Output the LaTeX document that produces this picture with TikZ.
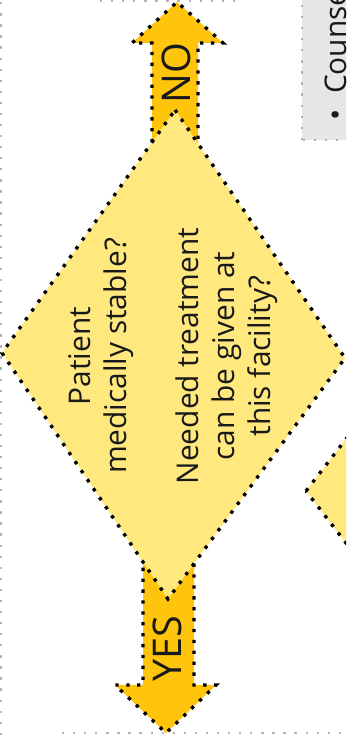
\documentclass[tikz,border=0pt]{standalone}
\usepackage{fontspec}
\setmainfont{Open Sans}
\definecolor{decisionfill}{HTML}{FFE97F}
\definecolor{arrowfill}{HTML}{FFC50D}
\definecolor{notefill}{HTML}{E6E6E6}

\begin{document}
\begin{tikzpicture}[x=0.02cm, y=0.02cm,
  every node/.style={font=\fontsize{17}{20.5}\selectfont, text=black!90},
  dotborder/.style={draw=black, line width=1.9pt, dash pattern=on 1.9pt off 4.3pt},
  grayborder/.style={draw=gray!60, line width=1.3pt, dash pattern=on 1.3pt off 5pt},
  blockarrow/.style={dotborder, fill=arrowfill},
  decision/.style={dotborder, fill=decisionfill},
  answer/.style={font=\fontsize{22.5}{26}\selectfont, rotate=90, inner sep=0pt}]
\useasboundingbox (0,0) rectangle (346,735);
\clip (0,0) rectangle (346,735);
\draw[grayborder] (1,0) -- (1,735);
\draw[grayborder] (62,2) -- (346,2);
\draw[grayborder] (100,734) -- (243,734);
\draw[grayborder, fill=notefill] (302,595) rectangle (370,750);
\node (note) [rotate=90, anchor=base west, inner sep=0pt] at (346,614) {\textbullet\ \ Counse};
\draw[decision] (306,244) -- (366,322) -- (426,244) -- (366,166) -- cycle;
\draw[blockarrow] (152,560) -- (152,692) -- (132,692) -- (177,733) -- (223,692) -- (198,692) -- (198,560) -- cycle;
\draw[blockarrow] (143,200) -- (143,50) -- (115,50) -- (166,2) -- (216,50) -- (194,50) -- (194,200) -- cycle;
\draw[decision] (175,625) -- (345,377) -- (168,136) -- (2,382) -- cycle;
\node (stable) [rotate=90, align=center] at (173,379)
  {Patient\\medically stable?\\[20.5pt]Needed treatment\\can be given at\\this facility?};
\node (no) [answer] at (176,662) {NO};
\node (yes) [answer] at (167,86) {YES};
\end{tikzpicture}
\end{document}
